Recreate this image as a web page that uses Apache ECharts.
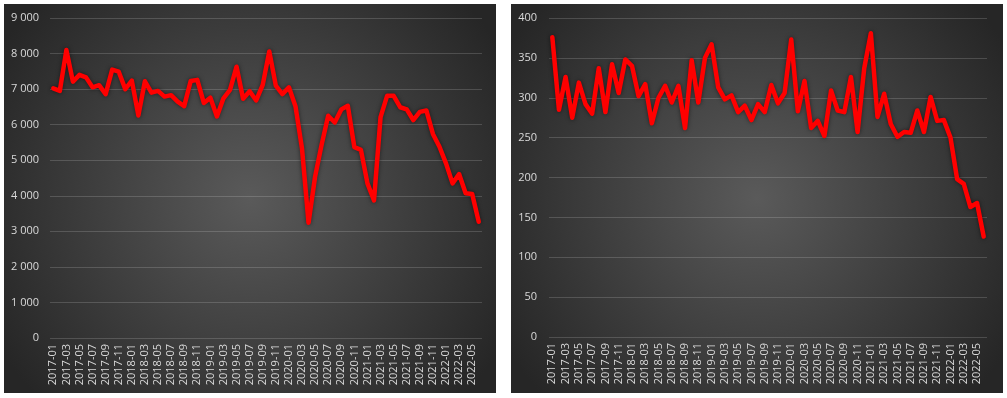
<!DOCTYPE html>
<html>
<head>
<meta charset="utf-8">
<script src="https://cdn.jsdelivr.net/npm/echarts@6/dist/echarts.min.js"></script>
<style>
html,body{margin:0;padding:0;background:#ffffff;}
#c{width:1007px;height:398px;}
</style>
</head>
<body>
<div id="c"></div>
<script>
// Categories: monthly 2017-01 .. 2022-06
const categories = [
  '2017-01','2017-02','2017-03','2017-04','2017-05','2017-06','2017-07','2017-08','2017-09','2017-10','2017-11','2017-12',
  '2018-01','2018-02','2018-03','2018-04','2018-05','2018-06','2018-07','2018-08','2018-09','2018-10','2018-11','2018-12',
  '2019-01','2019-02','2019-03','2019-04','2019-05','2019-06','2019-07','2019-08','2019-09','2019-10','2019-11','2019-12',
  '2020-01','2020-02','2020-03','2020-04','2020-05','2020-06','2020-07','2020-08','2020-09','2020-10','2020-11','2020-12',
  '2021-01','2021-02','2021-03','2021-04','2021-05','2021-06','2021-07','2021-08','2021-09','2021-10','2021-11','2021-12',
  '2022-01','2022-02','2022-03','2022-04','2022-05','2022-06'
];

const leftValues = [
  7020, 6950, 8100, 7210, 7400, 7330, 7050, 7110, 6860, 7550, 7490, 7000,
  7240, 6260, 7220, 6900, 6950, 6790, 6830, 6650, 6520, 7230, 7260, 6610,
  6760, 6230, 6740, 6980, 7630, 6730, 6940, 6680, 7120, 8060, 7100, 6860,
  7050, 6520, 5330, 3240, 4540, 5440, 6250, 6060, 6430, 6530, 5370, 5290,
  4350, 3870, 6210, 6810, 6810, 6490, 6430, 6130, 6360, 6400, 5740, 5380,
  4910, 4350, 4610, 4070, 4050, 3270
];

const rightValues = [
  376, 285, 326, 275, 319, 292, 280, 337, 282, 342, 306, 348,
  340, 302, 317, 268, 300, 315, 294, 315, 262, 347, 294, 350,
  367, 313, 298, 303, 282, 290, 272, 292, 282, 316, 293, 306,
  373, 283, 321, 262, 271, 252, 309, 284, 282, 326, 257, 337,
  381, 276, 305, 267, 251, 257, 256, 284, 257, 301, 271, 272,
  250, 198, 192, 163, 168, 126
];

const leftTicks = { min: 0, max: 9000, interval: 1000 };
const rightTicks = { min: 0, max: 400, interval: 50 };

const chart = echarts.init(document.getElementById('c'), null, { renderer: 'canvas' });

function bgFill() {
  return {
    type: 'radial', x: 0.5, y: 0.5, r: 0.75,
    colorStops: [
      { offset: 0, color: '#5a5a5a' },
      { offset: 1, color: '#262626' }
    ]
  };
}

const fmt = v => {
  const s = String(v);
  return s.replace(/\B(?=(\d{3})+(?!\d))/g, ' ');
};

const labelColor = '#d9d9d9';
const fontFamily = 'Open Sans, Liberation Sans, Arial, sans-serif';

function xAxisCfg(idx) {
  return {
    type: 'category',
    gridIndex: idx,
    data: categories,
    boundaryGap: true,
    axisLine: { show: false },
    axisTick: { show: false },
    axisLabel: {
      rotate: 90,
      interval: 1,
      color: labelColor,
      fontSize: 11,
      fontFamily: fontFamily,
      margin: 6
    },
    splitLine: { show: false }
  };
}

function yAxisCfg(idx, ticks, margin) {
  return {
    type: 'value',
    gridIndex: idx,
    min: ticks.min,
    max: ticks.max,
    interval: ticks.interval,
    axisLine: { show: false },
    axisTick: { show: false },
    axisLabel: {
      color: labelColor,
      fontSize: 11,
      fontFamily: fontFamily,
      margin: margin,
      formatter: fmt
    },
    splitLine: { lineStyle: { color: 'rgba(255,255,255,0.16)', width: 1 } }
  };
}

function lineSeries(idx, data) {
  return {
    type: 'line',
    xAxisIndex: idx,
    yAxisIndex: idx,
    data: data,
    symbol: 'none',
    smooth: false,
    lineStyle: {
      color: '#ff0000',
      width: 4.5,
      join: 'round',
      cap: 'round',
      shadowColor: 'rgba(0,0,0,0.5)',
      shadowBlur: 4
    },
    animation: false
  };
}

chart.setOption({
  animation: false,
  backgroundColor: '#ffffff',
  graphic: [
    { type: 'rect', left: 4, top: 4, shape: { width: 492, height: 389 }, style: { fill: bgFill() }, z: -10 },
    { type: 'rect', left: 511, top: 4, shape: { width: 492, height: 389 }, style: { fill: bgFill() }, z: -10 }
  ],
  grid: [
    { left: 50, right: 525, top: 18, bottom: 60 },
    { left: 549, right: 20, top: 18, bottom: 61 }
  ],
  xAxis: [xAxisCfg(0), xAxisCfg(1)],
  yAxis: [yAxisCfg(0, leftTicks, 11), yAxisCfg(1, rightTicks, 12)],
  series: [lineSeries(0, leftValues), lineSeries(1, rightValues)]
});
</script>
</body>
</html>
